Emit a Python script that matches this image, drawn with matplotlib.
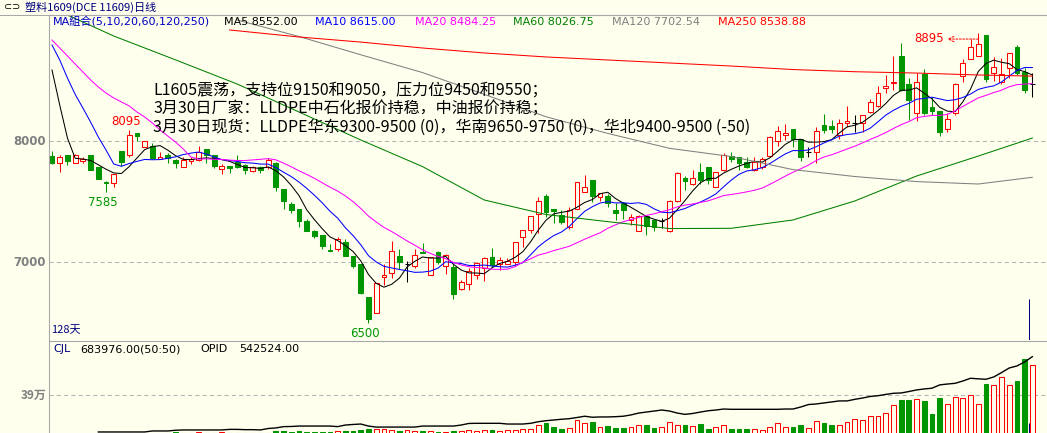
import matplotlib
matplotlib.use('Agg')
import matplotlib.pyplot as plt
import numpy as np
import pandas as pd

plt.rcParams['font.family'] = ['Noto Sans CJK SC', 'DejaVu Sans']

W, H = 1047, 433
BG = '#ffffee'
RED = '#ff0000'
GREEN = '#009600'
GRID = '#b4b4b4'
AXIS = '#a8a8a8'

# daily candles, 128 days
opens = [7879, 7818, 7884, 7823, 7837, 7884, 7788, 7666, 7653, 7917,
         7884, 8066, 7955, 7959, 7851, 7884, 7846, 7790, 7835, 7843,
         7934, 7884, 7774, 7796, 7829, 7804, 7757, 7790, 7790, 7823,
         7606, 7482, 7438, 7342, 7259, 7226, 7102, 7110, 7165, 7052,
         6990, 6715, 6580, 6876, 6910, 7052, 6990, 6970, 7085, 6893,
         7085, 6970, 6965, 6777, 6818, 6893, 6950, 7047, 6990, 6990,
         7000, 7207, 7267, 7397, 7548, 7438, 7391, 7294, 7441, 7583,
         7680, 7537, 7548, 7432, 7493, 7350, 7260, 7383, 7350, 7342,
         7259, 7507, 7694, 7645, 7744, 7785, 7625, 7763, 7879, 7868,
         7833, 7763, 7790, 7880, 8005, 8050, 8104, 8021, 7914, 7914,
         8132, 8127, 8052, 8149, 8154, 8154, 8245, 8292, 8438, 8479,
         8705, 8473, 8237, 8556, 8281, 8253, 8099, 8231, 8540, 8678,
         8705, 8878, 8567, 8493, 8603, 8782, 8575, 8473]
highs = [7919, 7887, 7888, 7895, 7868, 7890, 7790, 7675, 7730, 7917,
         8095, 8070, 8000, 7983, 7909, 7900, 7856, 7868, 7868, 7960,
         7934, 7884, 7812, 7800, 7887, 7810, 7795, 7795, 7860, 7830,
         7606, 7500, 7440, 7357, 7270, 7226, 7149, 7212, 7190, 7052,
         6990, 6715, 6826, 6985, 7175, 7110, 7010, 7110, 7160, 7047,
         7095, 7070, 6990, 6855, 6950, 7005, 7047, 7116, 7040, 7035,
         7165, 7267, 7383, 7543, 7565, 7440, 7432, 7455, 7664, 7720,
         7680, 7570, 7565, 7488, 7500, 7400, 7390, 7383, 7350, 7364,
         7515, 7750, 7710, 7763, 7823, 7785, 7750, 7900, 7914, 7868,
         7870, 7870, 7870, 8045, 8126, 8143, 8104, 8021, 7955, 8120,
         8223, 8176, 8182, 8292, 8217, 8217, 8347, 8457, 8548, 8705,
         8815, 8520, 8567, 8595, 8369, 8253, 8231, 8484, 8678, 8843,
         8895, 8878, 8694, 8686, 8732, 8795, 8603, 8562]
lows = [7812, 7749, 7804, 7818, 7818, 7760, 7688, 7585, 7625, 7800,
        7868, 8005, 7955, 7851, 7851, 7818, 7777, 7785, 7812, 7840,
        7818, 7780, 7732, 7740, 7777, 7728, 7750, 7740, 7768, 7590,
        7438, 7405, 7294, 7259, 7200, 7110, 7095, 7096, 7055, 6955,
        6740, 6500, 6580, 6810, 6870, 6945, 6840, 6955, 7075, 6893,
        6985, 6900, 6700, 6770, 6770, 6865, 6848, 6960, 6940, 6985,
        6980, 7125, 7240, 7240, 7377, 7322, 7317, 7273, 7441, 7583,
        7500, 7510, 7460, 7350, 7355, 7310, 7260, 7225, 7260, 7280,
        7248, 7500, 7598, 7640, 7647, 7647, 7620, 7755, 7830, 7760,
        7780, 7755, 7775, 7870, 7960, 8010, 7950, 7840, 7873, 7823,
        8066, 8066, 8016, 8120, 8080, 8080, 8231, 8281, 8402, 8424,
        8419, 8176, 8170, 8217, 8217, 8044, 8080, 8217, 8493, 8678,
        8705, 8493, 8500, 8473, 8520, 8548, 8402, 8369]
closes = [7823, 7868, 7840, 7884, 7851, 7765, 7691, 7655, 7730, 7829,
          8050, 8044, 8000, 7860, 7868, 7862, 7818, 7843, 7851, 7914,
          7887, 7796, 7793, 7782, 7785, 7763, 7785, 7763, 7846, 7625,
          7509, 7432, 7344, 7259, 7218, 7137, 7095, 7190, 7055, 6970,
          6750, 6530, 6826, 6895, 7090, 7005, 6990, 7060, 7075, 7047,
          7002, 7060, 6735, 6840, 6925, 6997, 7033, 6977, 7022, 7010,
          7165, 7267, 7383, 7507, 7418, 7427, 7330, 7432, 7664, 7620,
          7548, 7570, 7493, 7405, 7432, 7372, 7383, 7300, 7294, 7342,
          7507, 7735, 7674, 7694, 7680, 7680, 7744, 7887, 7851, 7818,
          7785, 7833, 7851, 8033, 8085, 8071, 8021, 7873, 7914, 8088,
          8093, 8099, 8149, 8168, 8154, 8217, 8327, 8402, 8457, 8493,
          8424, 8341, 8493, 8237, 8253, 8080, 8182, 8473, 8645, 8782,
          8804, 8512, 8611, 8556, 8727, 8562, 8424, 8473]

# volume (CJL) and open interest (OPID), in 10k lots
volume = [1.2, 1.0, 1.1, 1.3, 0.9, 1.4, 1.2, 1.5, 1.1, 1.3,
          1.6, 1.2, 1.0, 1.4, 1.3, 1.5, 2.5, 2.3, 2.4, 2.6,
          2.4, 2.3, 2.5, 2.2, 1.8, 2.4, 2.3, 2.4, 1.9, 4.2,
          4.2, 3.2, 4.2, 2.5, 2.9, 2.9, 2.9, 4.2, 3.9, 3.9,
          4.9, 5.9, 5.9, 5.9, 4.9, 3.9, 4.9, 3.9, 3.9, 3.9,
          2.9, 2.9, 3.9, 3.9, 4.9, 3.9, 4.9, 4.9, 3.9, 4.9,
          4.9, 5.9, 5.9, 9.8, 11.8, 7.8, 5.9, 6.9, 14.7, 11.8,
          12.7, 7.8, 8.8, 6.9, 6.9, 7.8, 9.8, 9.8, 6.9, 7.8,
          12.7, 9.5, 9.8, 8.8, 10.8, 5.9, 7.8, 9.5, 5.9, 5.9,
          5.9, 5.9, 4.9, 7.5, 11.8, 7.5, 7.8, 9.8, 6.9, 13.7,
          11.8, 9.8, 9.8, 12.7, 15.4, 14.7, 18.3, 18.3, 21.6, 29.1,
          34.3, 34.3, 35.3, 33.3, 20.6, 36.3, 30.4, 36.9, 36.3, 38.9,
          30.4, 50.0, 49.0, 56.5, 49.0, 52.9, 74.8, 68.3976]
nan = float('nan')
opid = [nan, nan, nan, nan, nan, nan, 2.1, 2.1, 2.1, 2.1,
        2.1, 2.1, 2.1, 2.8, 2.8, 2.8, 3.3, 3.5, 3.5, 3.5,
        3.5, 3.5, 3.5, 3.9, 3.9, 3.7, 3.7, 3.5, 4.5, 4.9,
        5.8, 5.9, 6.2, 6.2, 6.2, 6.2, 6.2, 5.8, 6.9, 7.3,
        7.6, 6.2, 5.5, 5.5, 5.5, 5.5, 5.5, 5.5, 6.2, 6.2,
        6.2, 6.2, 6.2, 6.9, 8.0, 8.1, 8.1, 8.1, 8.1, 7.6,
        7.6, 7.6, 8.1, 9.2, 9.9, 10.4, 10.9, 11.3, 12.1, 13.0,
        12.3, 12.5, 12.5, 12.7, 13.0, 13.9, 15.2, 15.9, 16.6, 17.3,
        16.6, 15.2, 14.3, 14.9, 15.9, 16.8, 17.3, 18.0, 17.8, 17.8,
        17.8, 17.8, 17.8, 17.8, 17.8, 18.0, 18.0, 19.4, 21.1, 21.5,
        22.2, 22.9, 23.6, 23.6, 24.7, 25.6, 26.7, 27.2, 28.1, 28.9,
        29.1, 30.1, 31.2, 31.9, 32.4, 34.7, 35.3, 35.8, 37.4, 39.3,
        38.9, 38.6, 40.2, 43.2, 46.4, 47.8, 50.6, 54.2524]

# moving averages: first values depend on days before the window
ma5_head = [8589, 8300, 8027, 7860]
ma10_head = [8796, 8672, 8523, 8388, 8275, 8159, 8035, 7928, 7812]
ma20_head = [8837, 8771, 8705, 8639, 8573, 8507, 8449, 8399, 8358, 8325,
             8292, 8242, 8201, 8151, 8093, 8044, 7994, 7936, 7870]
ma60_idx = [0, 8, 16, 24, 32, 40, 48, 56, 64, 72, 80, 88, 96, 104, 112, 120, 127]
ma60_val = [9102, 8870, 8673, 8473, 8242, 8011, 7791, 7515, 7395, 7336,
            7279, 7281, 7350, 7507, 7713, 7878, 8026.75]
ma120_idx = [24, 32, 40, 48, 56, 64, 72, 80, 88, 96, 104, 112, 120, 127]
ma120_val = [9002, 8866, 8715, 8568, 8388, 8203, 8065, 7942, 7874, 7766,
             7709, 7667, 7647, 7702.54]
ma250_idx = [23, 32, 40, 48, 56, 64, 72, 80, 88, 96, 104, 112, 120, 127]
ma250_val = [8920, 8862, 8820, 8771, 8730, 8697, 8672, 8647, 8622, 8593,
             8575, 8564, 8548, 8538.88]

legend_items = [('MA5 8552.00', 'black', 224), ('MA10 8615.00', '#0000ff', 315),
                ('MA20 8484.25', '#ff00ff', 415), ('MA60 8026.75', '#008000', 513),
                ('MA120 7702.54', '#808080', 612), ('MA250 8538.88', RED, 718)]
notes = ['L1605震荡，支持位9150和9050，压力位9450和9550；',
         '3月30日厂家：LLDPE中石化报价持稳，中油报价持稳；',
         '3月30日现货：LLDPE华东9300-9500 (0)，华南9650-9750 (0)，华北9400-9500 (-50)']
cursor_day = 126.6

O, Hh, L, C = (np.array(a, dtype=float) for a in (opens, highs, lows, closes))
n = len(C)
x = np.arange(n)
cl = pd.Series(C)


def moving(k, head):
    m = cl.rolling(k).mean().to_numpy()
    m[:len(head)] = head
    return m


fig = plt.figure(figsize=(W / 100, H / 100), dpi=100, facecolor=BG)
ax = fig.add_axes([49 / W, 1 - 340 / H, (W - 49) / W, 325 / H], facecolor=BG)
axv = fig.add_axes([49 / W, 0, (W - 49) / W, 92 / H], facecolor=BG)

x0, x1 = -0.39, 128.9
p_top = 8000 + (141.3 - 15) * 8.264
p_bot = 8000 + (141.3 - 340) * 8.264
ax.set_xlim(x0, x1)
ax.set_ylim(p_bot, p_top)
axv.set_xlim(x0, x1)
axv.set_ylim(1.96, 92.1)

for a in (ax, axv):
    for s in ('right', 'bottom'):
        a.spines[s].set_visible(False)
    a.spines['left'].set_color(AXIS)
    a.spines['top'].set_color(AXIS)
    a.set_xticks([])
    a.set_yticks([])

lw = 0.75
bw = 0.62
ax.axhline(8000, color=GRID, lw=lw, ls=(0, (4, 3)), zorder=1)
ax.axhline(7000, color=GRID, lw=lw, ls=(0, (4, 3)), zorder=1)
axv.axhline(39, color=GRID, lw=lw, ls=(0, (4, 3)), zorder=1)

up = C > O
dn = C < O
fl = C == O
ax.bar(x[up], (C - O)[up], bottom=O[up], width=bw, facecolor=BG,
       edgecolor=RED, lw=lw, zorder=2)
ax.vlines(x[up], C[up], Hh[up], color=RED, lw=lw, zorder=2)
ax.vlines(x[up], L[up], O[up], color=RED, lw=lw, zorder=2)
ax.bar(x[dn], (O - C)[dn], bottom=C[dn], width=bw, facecolor=GREEN,
       edgecolor=GREEN, lw=lw, zorder=2)
ax.vlines(x[dn], L[dn], Hh[dn], color=GREEN, lw=lw, zorder=2)
ax.vlines(x[fl], L[fl], Hh[fl], color='black', lw=lw, zorder=2)
ax.hlines(O[fl], x[fl] - bw / 2, x[fl] + bw / 2, color='black', lw=lw, zorder=2)

ax.plot(x, moving(5, ma5_head), color='black', lw=lw, zorder=3)
ax.plot(x, moving(10, ma10_head), color='#0000ff', lw=lw, zorder=3)
ax.plot(x, moving(20, ma20_head), color='#ff00ff', lw=lw, zorder=3)
ax.plot(ma60_idx, ma60_val, color='#008000', lw=lw, zorder=3)
ax.plot(ma120_idx, ma120_val, color='#808080', lw=lw, zorder=3)
ax.plot(ma250_idx, ma250_val, color=RED, lw=lw, zorder=3)

V = np.array(volume)
vup = ~dn
axv.bar(x[vup], V[vup], width=bw, facecolor=BG, edgecolor=RED, lw=lw, zorder=2)
axv.bar(x[dn], V[dn], width=bw, facecolor=GREEN, edgecolor=GREEN, lw=lw, zorder=2)
axo = axv.twinx()
axo.set_ylim(1.39, 65.1)
axo.axis('off')
axo.plot(x, opid, color='black', lw=1.0)

ax.vlines(cursor_day, p_bot, 6697, color='#000080', lw=lw, zorder=4)
axv.vlines(cursor_day, 1.96, 12.0, color='#000080', lw=lw, zorder=4)

# extreme price labels
i_hi, i_lo = int(np.argmax(Hh)), int(np.argmin(L))
ax.annotate('8095', (10, Hh[10]), xytext=(-3, 2), textcoords='offset pixels',
            ha='center', va='bottom', color=RED, fontsize=8.5, family='DejaVu Sans')
ax.annotate('7585', (7, L[7]), xytext=(-3, -4), textcoords='offset pixels',
            ha='center', va='top', color=GREEN, fontsize=8.5, family='DejaVu Sans')
ax.annotate('%d' % L[i_lo], (i_lo, L[i_lo]), xytext=(-4, -4), textcoords='offset pixels',
            ha='center', va='top', color=GREEN, fontsize=8.5, family='DejaVu Sans')
ax.annotate('%d' % Hh[i_hi], (i_hi, Hh[i_hi]), xytext=(-34, -6), textcoords='offset pixels',
            ha='right', va='center', color=RED, fontsize=8.5, family='DejaVu Sans')
ax.annotate('', xy=(i_hi - 4.0, Hh[i_hi] - 50), xytext=(i_hi, Hh[i_hi] - 50),
            arrowprops=dict(arrowstyle='->', color=RED, lw=0.7, ls=(0, (2, 1.5)),
                            shrinkA=0, shrinkB=0))


def ftext(px, py, s, **kw):
    kw.setdefault('va', 'center')
    fig.text(px / W, 1 - py / H, s, **kw)


fig.add_artist(plt.Line2D([0, 1], [1 - 15 / H] * 2, color=AXIS, lw=lw))
ftext(4, 7, '⊂⊃', color='black', fontsize=7, family='DejaVu Sans')
ftext(25, 7, '塑料1609(DCE 11609)日线', color='#000080', fontsize=8)
ftext(53, 22, 'MA組合(5,10,20,60,120,250)', color='#0000c0', fontsize=8,
      family=['DejaVu Sans', 'Noto Sans CJK TC'])
for txt, col, px in legend_items:
    ftext(px, 22, txt, color=col, fontsize=8, family='DejaVu Sans')
for k, s in enumerate(notes):
    ftext(153, 90 + 18.5 * k, s, color='black', fontsize=11.5)
ftext(46, 141.3, '8000', ha='right', color='#808080', fontsize=8.5,
      fontweight='bold', family='DejaVu Sans')
ftext(46, 262.3, '7000', ha='right', color='#808080', fontsize=8.5,
      fontweight='bold', family='DejaVu Sans')
ftext(46, 395, '39万', ha='right', color='#808080', fontsize=8.5, fontweight='bold')
ftext(51, 330, '128天', color='#000080', fontsize=8)
ftext(53, 349.5, 'CJL', color='#000080', fontsize=8, family='DejaVu Sans')
ftext(80, 349.5, '683976.00(50:50)', color='black', fontsize=8, family='DejaVu Sans')
ftext(200, 349.5, 'OPID', color='black', fontsize=8, family='DejaVu Sans')
ftext(239, 349.5, '542524.00', color='black', fontsize=8, family='DejaVu Sans')

fig.savefig('out.png', dpi=100, facecolor=BG)
